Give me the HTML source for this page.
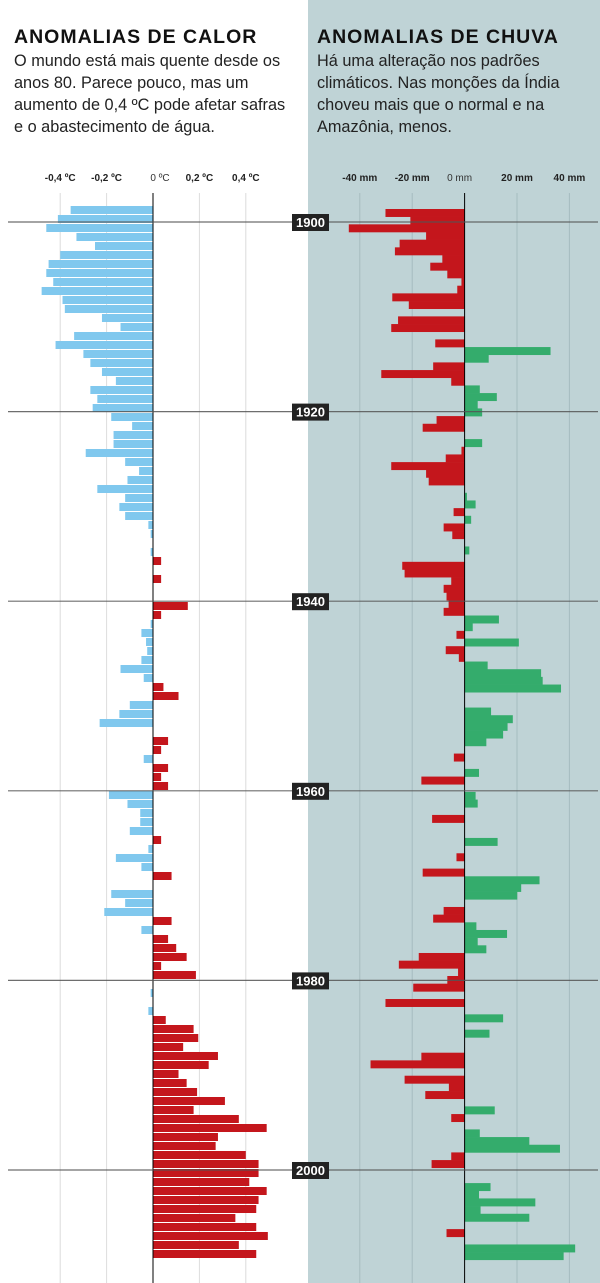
<!DOCTYPE html>
<html><head><meta charset="utf-8">
<style>
html,body{margin:0;padding:0;background:#fff;}
body{width:600px;height:1283px;position:relative;overflow:hidden;font-family:"Liberation Sans",Arial,sans-serif;}
#rightbg{position:absolute;left:308px;top:0;width:292px;height:1283px;background:#bfd3d6;}
.title{position:absolute;top:26px;font-weight:bold;font-size:19.5px;color:#111;letter-spacing:1px;}
.sub{position:absolute;top:50px;font-size:16.3px;line-height:22px;color:#222;width:283px;}
svg{position:absolute;left:0;top:0;}
</style></head><body>
<div id="rightbg"></div>
<div class="title" style="left:14px">ANOMALIAS DE CALOR</div>
<div class="sub" style="left:14px">O mundo está mais quente desde os anos 80. Parece pouco, mas um aumento de 0,4 ºC pode afetar safras e o abastecimento de água.</div>
<div class="title" style="left:317px">ANOMALIAS DE CHUVA</div>
<div class="sub" style="left:317px;width:280px">Há uma alteração nos padrões climáticos. Nas monções da Índia choveu mais que o normal e na Amazônia, menos.</div>
<svg id="chart" width="600" height="1283"></svg>
<script>
const tempValues=[-0.355,-0.41,-0.46,-0.33,-0.25,-0.40,-0.45,-0.46,-0.43,-0.48,-0.39,-0.38,-0.22,-0.14,-0.34,-0.42,-0.30,-0.27,-0.22,-0.16,-0.27,-0.24,-0.26,-0.18,
-0.09,-0.17,-0.17,-0.29,-0.12,-0.06,-0.11,-0.24,-0.12,-0.145,-0.12,-0.02,-0.01,0,-0.01,0.035,0,0.035,0,0,0.15,0.035,-0.01,
-0.05,-0.03,-0.025,-0.05,-0.14,-0.04,0.045,0.11,-0.10,-0.145,-0.23,0,0.065,0.035,-0.04,0.065,0.035,0.065,-0.19,-0.11,-0.055,-0.055,-0.10,
0.035,-0.02,-0.16,-0.05,0.08,0,-0.18,-0.12,-0.21,0.08,-0.05,0.065,0.10,0.145,0.035,0.185,0,-0.01,0,-0.02,0.055,0.175,0.195,
0.13,0.28,0.24,0.11,0.145,0.19,0.31,0.175,0.37,0.49,0.28,0.27,0.40,0.455,0.455,0.415,0.49,0.455,0.445,0.355,0.445,0.495,0.37,0.445];
const rainValues=[-30.2,-20.7,-44.2,-14.7,-24.8,-26.6,-8.5,-13.1,-6.6,-1.2,-2.8,-27.6,-21.3,0,-25.4,-28,0,-11.2,32.8,9.2,-12,-31.8,-5.1,5.8,12.3,5,6.7,
-10.7,-16,0,6.7,-1.2,-7.2,-28,-14.7,-13.7,0,0.9,4.2,-4.2,2.5,-8,-4.7,0,1.8,0,-23.8,-22.9,-5.1,-8,-6.9,-6.1,-8,13.1,
3.1,-3.1,20.7,-7.2,-2.2,8.8,29.2,29.8,36.8,0,0,10.1,18.4,16.4,14.7,8.3,0,-4.1,0,5.5,-16.5,0,4.2,5,0,-12.4,0,
0,12.6,0,-3.1,0,-16,28.6,21.6,20.1,0,-8,-12,4.5,16.2,5,8.3,-17.5,-25.1,-2.5,-6.6,-19.6,0,-30.2,0,14.7,0,9.5,0,
0,-16.5,-35.9,0,-22.9,-6,-15,0,11.5,-5.1,0,5.8,24.7,36.4,-5.1,-12.6,
0,0,9.9,5.5,27,6.1,24.7,0,-6.9,0,42.2,37.8];
const tempTicks=[-0.4,-0.2,0.2,0.4];
const tempTickLabels=["-0,4 ºC","-0,2 ºC","0,2 ºC","0,4 ºC"];
const rainTicks=[-40,-20,20,40];
const rainTickLabels=["-40 mm","-20 mm","20 mm","40 mm"];
const yearLabels=[1900,1920,1940,1960,1980,2000];

const NS="http://www.w3.org/2000/svg";
const svg=document.getElementById('chart');
function mk(tag,attrs,parent){const e=document.createElementNS(NS,tag);for(const k in attrs)e.setAttribute(k,attrs[k]);(parent||svg).appendChild(e);return e;}
const tZero=153, tK=232;
function xT(v){return tZero+v*tK;}
const rZero=464.6, rK=2.62;
function xR(v){return rZero+v*rK;}
const tTop=206, tPitch=9;
function yT(i){return tTop+i*tPitch;}
const rTop=209, rPitch=7.67;
function yR(i){return rTop+i*rPitch;}
function yYear(y){return 222+(y-1900)*9.48;}

tempTicks.forEach((t,i)=>{
  const g=mk('line',{x1:xT(t),x2:xT(t),y1:193,y2:1283,stroke:'#dcdcdc','stroke-width':1});
  
  
  const l=mk('text',{x:xT(t),y:181,'text-anchor':'middle','font-size':10,'font-weight':'bold',fill:'#222','font-family':'Liberation Sans, sans-serif'});
  l.textContent=tempTickLabels[i];
  
  
});
rainTicks.forEach((t,i)=>{
  const g=mk('line',{x1:xR(t),x2:xR(t),y1:193,y2:1283,stroke:'#a6bcc0','stroke-width':1});
  
  
  const l=mk('text',{x:xR(t),y:181,'text-anchor':'middle','font-size':10,'font-weight':'bold',fill:'#222','font-family':'Liberation Sans, sans-serif'});
  l.textContent=rainTickLabels[i];
  
  
});
let z1=mk('text',{x:tZero+7,y:181,'text-anchor':'middle','font-size':10,fill:'#333','font-family':'Liberation Sans, sans-serif'});
z1.textContent="0 ºC";


let z2=mk('text',{x:rZero-5,y:181,'text-anchor':'middle','font-size':10,fill:'#333','font-family':'Liberation Sans, sans-serif'});
z2.textContent="0 mm";



tempValues.forEach((v,i)=>{
  if(v===0)return;
  const x=Math.min(xT(0),xT(v)), w=Math.abs(xT(v)-xT(0));
  const b=mk('rect',{x:x,y:yT(i),width:w,height:tPitch-1,fill:v<0?'#80c8ee':'#c4161c'});
  
  
});
rainValues.forEach((v,i)=>{
  if(v===0)return;
  const x=Math.min(xR(0),xR(v)), w=Math.abs(xR(v)-xR(0));
  const b=mk('rect',{x:x,y:yR(i),width:w,height:rPitch+0.3,fill:v<0?'#c4161c':'#34ac6c'});
  
  
});
let zl=mk('line',{x1:tZero,x2:tZero,y1:193,y2:1283,stroke:'#000','stroke-width':1});


let zr=mk('line',{x1:rZero,x2:rZero,y1:193,y2:1283,stroke:'#000','stroke-width':1});


yearLabels.forEach(yr=>{
  const y=yYear(yr);
  const ln=mk('line',{x1:8,x2:598,y1:y,y2:y,stroke:'#555','stroke-width':1.2,'stroke-opacity':0.85});
  
  
  const bx=mk('rect',{x:292,y:y-8,width:37,height:17,fill:'#222'});
  
  
  const t=mk('text',{x:310.5,y:y+5,'text-anchor':'middle','font-size':13,'font-weight':'bold',fill:'#fff','font-family':'Liberation Sans, sans-serif'});
  t.textContent=yr;
  
  
});
</script>
</body></html>
